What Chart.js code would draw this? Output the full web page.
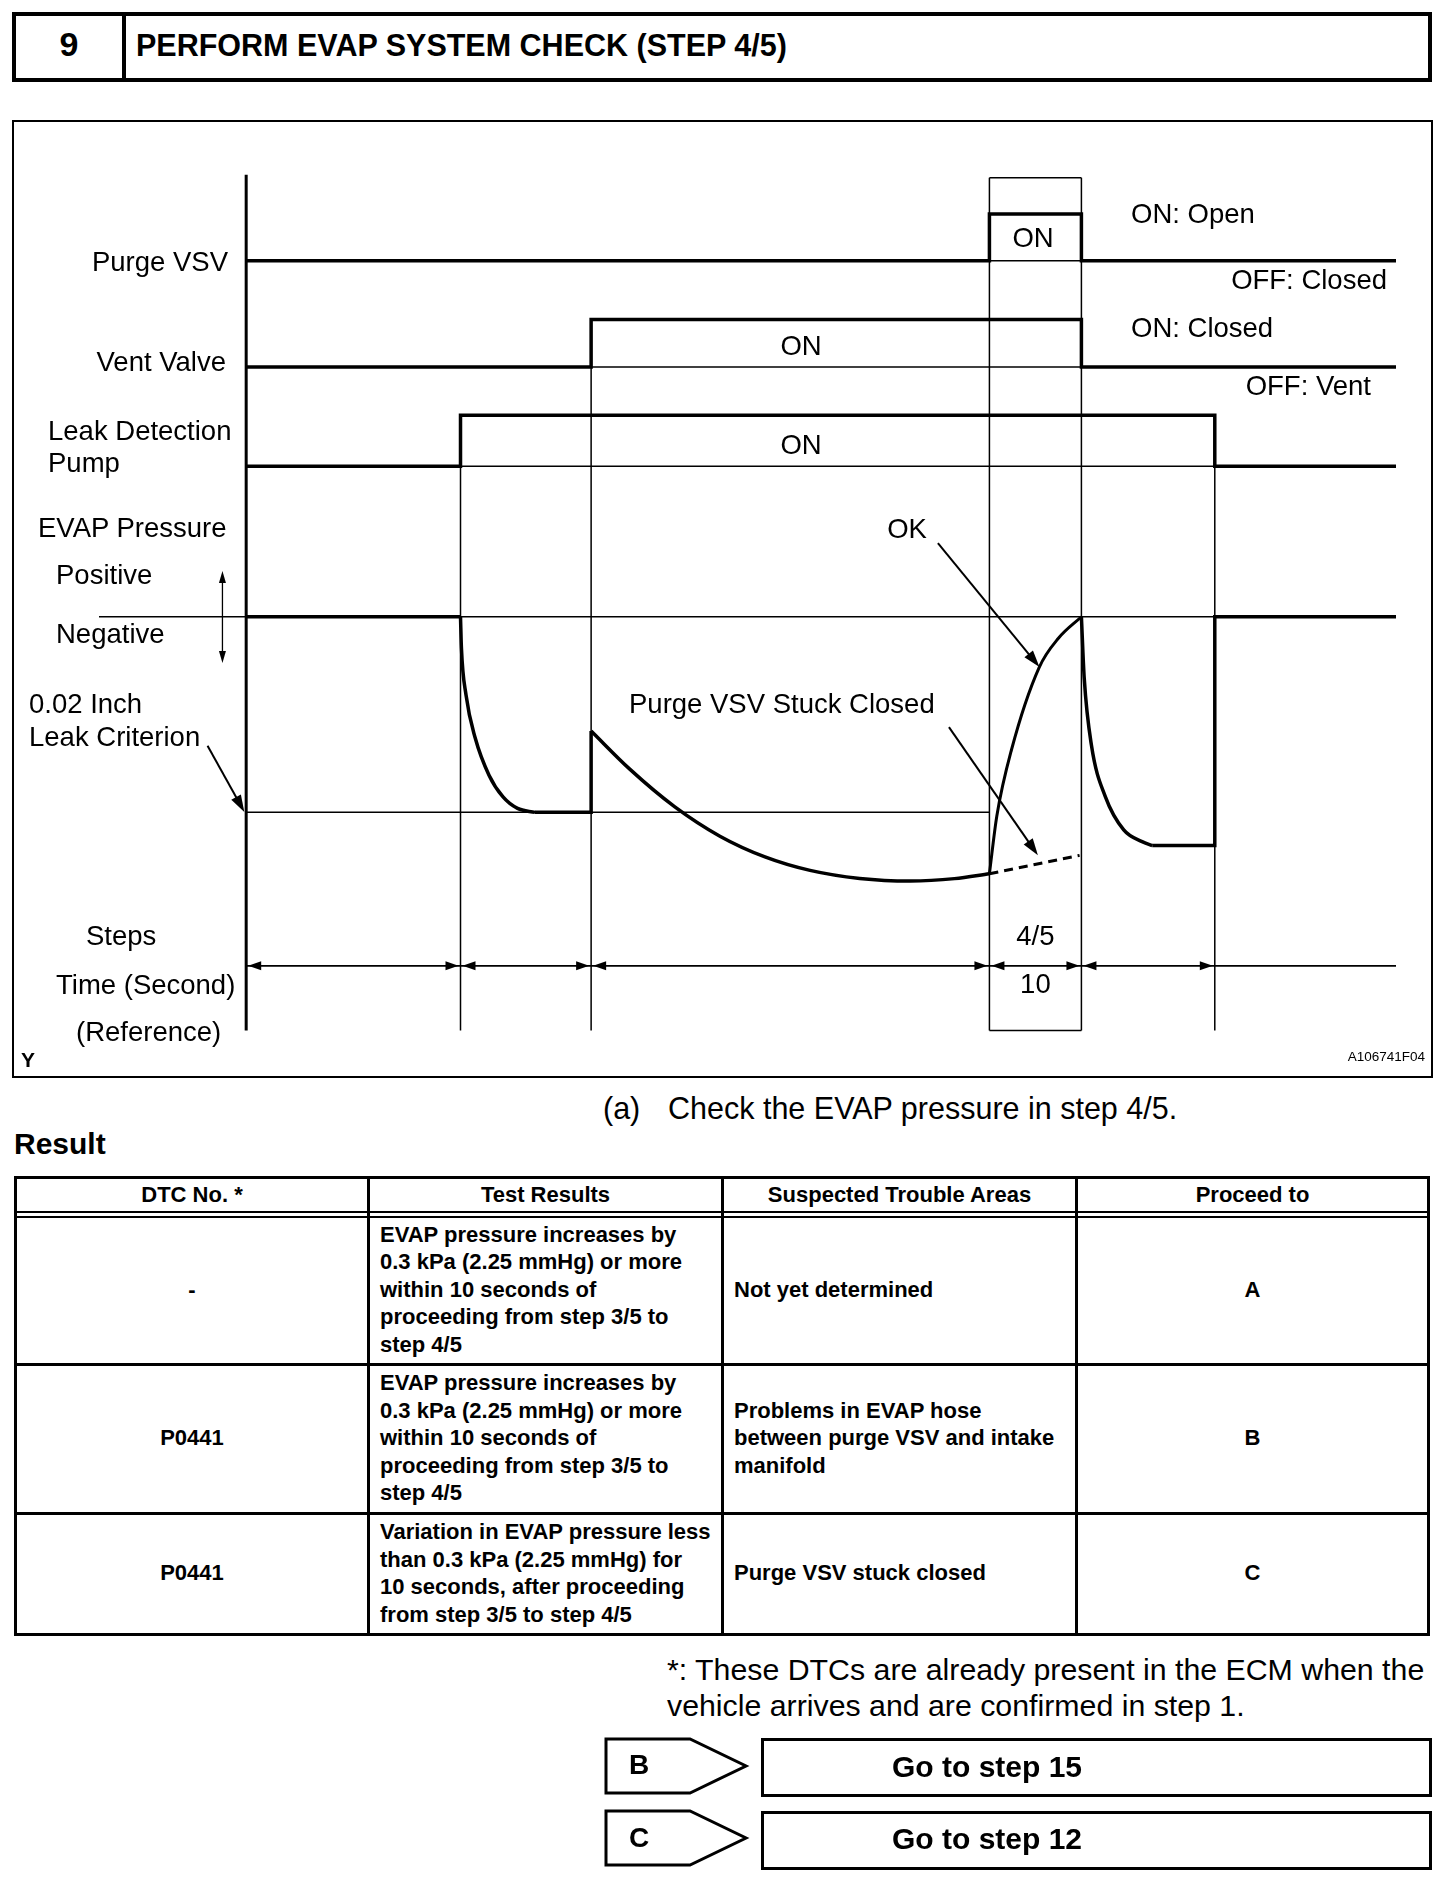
<!DOCTYPE html>
<html>
<head>
<meta charset="utf-8">
<title>Perform EVAP system check (step 4/5)</title>
<script src="https://cdn.jsdelivr.net/npm/chart.js"></script>
<style>
  body { margin: 0; width: 1456px; height: 1884px; position: relative; overflow: hidden; background: #fff; color: #000;
         font-family: "Liberation Sans", Arial, Helvetica, sans-serif; }
  .box { position: absolute; box-sizing: border-box; border: 3px solid #000; }
  .bar { position: absolute; background: #000; }
  .t { position: absolute; white-space: nowrap; line-height: 1; transform: translateY(-50%); }
  .t.r { transform: translate(-100%, -50%); }
  .t.c { transform: translate(-50%, -50%); }
  .lab { font-size: 27.5px; }
  .cell { position: absolute; display: flex; align-items: center; box-sizing: border-box;
          font-weight: bold; font-size: 22px; line-height: 27.5px; }
  .cc { justify-content: center; text-align: center; }
  .cl { padding-left: 10px; }
  #diagram { position: absolute; left: 12px; top: 120px; width: 1421px; height: 958px; box-sizing: border-box; border: 2px solid #000; }
  #diagram canvas { position: absolute; left: 0; top: 0; }
</style>
</head>
<body>

<!-- header -->
<div class="box" style="left:12px;top:12px;width:1420px;height:70px;border-width:4px"></div>
<div class="bar" style="left:122px;top:12px;width:4px;height:70px"></div>
<span class="t c" style="left:69px;top:44px;font-size:34px;font-weight:bold">9</span>
<span class="t" style="left:136px;top:45px;font-size:30.5px;font-weight:bold">PERFORM EVAP SYSTEM CHECK (STEP 4/5)</span>

<!-- timing diagram -->
<div id="diagram"><canvas id="timing" width="1417" height="954"></canvas></div>

<span class="t r lab" style="left:228px;top:262px">Purge VSV</span>
<span class="t r lab" style="left:226px;top:362px">Vent Valve</span>
<span class="t lab" style="left:48px;top:431px">Leak Detection</span>
<span class="t lab" style="left:48px;top:463px">Pump</span>
<span class="t lab" style="left:38px;top:528px">EVAP Pressure</span>
<span class="t lab" style="left:56px;top:575px">Positive</span>
<span class="t lab" style="left:56px;top:634px">Negative</span>
<span class="t lab" style="left:29px;top:704px">0.02 Inch</span>
<span class="t lab" style="left:29px;top:737px">Leak Criterion</span>
<span class="t lab" style="left:86px;top:936px">Steps</span>
<span class="t lab" style="left:56px;top:985px">Time (Second)</span>
<span class="t lab" style="left:76px;top:1032px">(Reference)</span>
<span class="t" style="left:21px;top:1059px;font-size:21px;font-weight:bold">Y</span>
<span class="t r" style="left:1425px;top:1057px;font-size:13.5px">A106741F04</span>

<span class="t c lab" style="left:1033px;top:238px">ON</span>
<span class="t lab" style="left:1131px;top:214px">ON: Open</span>
<span class="t r lab" style="left:1387px;top:280px">OFF: Closed</span>
<span class="t lab" style="left:1131px;top:328px">ON: Closed</span>
<span class="t r lab" style="left:1371px;top:386px">OFF: Vent</span>
<span class="t c lab" style="left:801px;top:346px">ON</span>
<span class="t c lab" style="left:801px;top:445px">ON</span>
<span class="t c lab" style="left:907px;top:529px">OK</span>
<span class="t lab" style="left:629px;top:704px">Purge VSV Stuck Closed</span>

<!-- caption -->
<span class="t" style="left:603px;top:1108px;font-size:30.5px">(a)</span>
<span class="t" style="left:668px;top:1108px;font-size:30.5px">Check the EVAP pressure in step 4/5.</span>
<span class="t" style="left:14px;top:1144px;font-size:30px;font-weight:bold">Result</span>

<!-- result table -->
<div class="box" style="left:14px;top:1176px;width:1416px;height:460px"></div>
<div class="bar" style="left:367px;top:1176px;width:3px;height:460px"></div>
<div class="bar" style="left:721px;top:1176px;width:3px;height:460px"></div>
<div class="bar" style="left:1075px;top:1176px;width:3px;height:460px"></div>
<div class="bar" style="left:14px;top:1211px;width:1416px;height:2px"></div>
<div class="bar" style="left:14px;top:1216px;width:1416px;height:2px"></div>
<div class="bar" style="left:14px;top:1363px;width:1416px;height:3px"></div>
<div class="bar" style="left:14px;top:1512px;width:1416px;height:3px"></div>

<div class="cell cc" style="left:17px;top:1178px;width:350px;height:33px">DTC No. *</div>
<div class="cell cc" style="left:370px;top:1178px;width:351px;height:33px">Test Results</div>
<div class="cell cc" style="left:724px;top:1178px;width:351px;height:33px">Suspected Trouble Areas</div>
<div class="cell cc" style="left:1078px;top:1178px;width:349px;height:33px">Proceed to</div>

<div class="cell cc" style="left:17px;top:1217px;width:350px;height:145px">-</div>
<div class="cell cl" style="left:370px;top:1217px;width:351px;height:145px">EVAP pressure increases by<br>0.3 kPa (2.25 mmHg) or more<br>within 10 seconds of<br>proceeding from step 3/5 to<br>step 4/5</div>
<div class="cell cl" style="left:724px;top:1217px;width:351px;height:145px">Not yet determined</div>
<div class="cell cc" style="left:1078px;top:1217px;width:349px;height:145px">A</div>

<div class="cell cc" style="left:17px;top:1365px;width:350px;height:146px">P0441</div>
<div class="cell cl" style="left:370px;top:1365px;width:351px;height:146px">EVAP pressure increases by<br>0.3 kPa (2.25 mmHg) or more<br>within 10 seconds of<br>proceeding from step 3/5 to<br>step 4/5</div>
<div class="cell cl" style="left:724px;top:1365px;width:351px;height:146px">Problems in EVAP hose<br>between purge VSV and intake<br>manifold</div>
<div class="cell cc" style="left:1078px;top:1365px;width:349px;height:146px">B</div>

<div class="cell cc" style="left:17px;top:1514px;width:350px;height:118px">P0441</div>
<div class="cell cl" style="left:370px;top:1514px;width:351px;height:118px">Variation in EVAP pressure less<br>than 0.3 kPa (2.25 mmHg) for<br>10 seconds, after proceeding<br>from step 3/5 to step 4/5</div>
<div class="cell cl" style="left:724px;top:1514px;width:351px;height:118px">Purge VSV stuck closed</div>
<div class="cell cc" style="left:1078px;top:1514px;width:349px;height:118px">C</div>

<!-- footnote and jumps -->
<span class="t" style="left:667px;top:1670px;font-size:30.3px">*: These DTCs are already present in the ECM when the</span>
<span class="t" style="left:667px;top:1706px;font-size:30.3px">vehicle arrives and are confirmed in step 1.</span>

<svg style="position:absolute;left:0;top:0" width="1456" height="1884">
  <polygon points="606,1739 690,1739 746,1766 690,1793 606,1793" fill="none" stroke="#000" stroke-width="3"/>
  <polygon points="606,1811 690,1811 746,1838 690,1865 606,1865" fill="none" stroke="#000" stroke-width="3"/>
</svg>
<div class="box" style="left:761px;top:1738px;width:671px;height:59px"></div>
<div class="box" style="left:761px;top:1811px;width:671px;height:59px"></div>
<span class="t" style="left:629px;top:1765px;font-size:28px;font-weight:bold">B</span>
<span class="t" style="left:629px;top:1838px;font-size:28px;font-weight:bold">C</span>
<span class="t" style="left:892px;top:1767px;font-size:30px;font-weight:bold">Go to step 15</span>
<span class="t" style="left:892px;top:1839px;font-size:30px;font-weight:bold">Go to step 12</span>

<script>
// phase boundaries on the time axis (seconds, reference only)
const phaseTimes = [0, 23.3, 37.5, 80.8, 90.8, 105.3, 125];
// state of each output in each phase (1 = ON)
const purgeVsvOn  = [0, 0, 0, 1, 0, 0];
const ventValveOn = [0, 0, 1, 1, 0, 0];
const leakPumpOn  = [0, 1, 1, 1, 1, 0];
const stepLabels = ['', '', '', '4/5', '', ''];
const timeLabels = ['', '', '', '10', '', ''];

// EVAP pressure, relative units: 0 = atmosphere, -1 = 0.02 inch leak criterion
const evapStart       = [[0, 0], [23.3, 0]];
const evapPumpDown    = [[23.3, 0], [23.4, -0.16], [23.9, -0.40], [24.9, -0.62], [26.4, -0.81], [27.9, -0.92], [29.5, -0.98], [31.4, -1.0]];
const evapCriterion   = [[31.4, -1.0], [37.5, -1.0], [37.5, -0.584]];
const evapVentClosed  = [[37.5, -0.584], [41.7, -0.779], [46.6, -0.972], [51.5, -1.122], [56.4, -1.228], [61.3, -1.297], [66.7, -1.338], [72.2, -1.351], [77.0, -1.339], [80.8, -1.314]];
const evapOk          = [[80.8, -1.314], [81.6, -1.02], [83.2, -0.68], [86.2, -0.26], [88.3, -0.11], [90.8, 0]];
const evapStuckClosed = [[80.8, -1.314], [90.6, -1.22]];
const evapRecheck     = [[90.8, 0], [91.1, -0.31], [91.9, -0.66], [93.4, -0.92], [95.4, -1.09], [97.4, -1.15], [98.5, -1.17]];
const evapEnd         = [[98.5, -1.17], [105.3, -1.17], [105.3, 0], [125, 0]];

// where each signal sits on the shared y scale
const lanes = [
  { on: purgeVsvOn,  low: 1.82, high: 2.06 },
  { on: ventValveOn, low: 1.277, high: 1.52 },
  { on: leakPumpOn,  low: 0.77, high: 1.03 }
];
const axisTop = 2.26, boxTop = 2.245, guideBottom = -2.115;
const arrowRowY = -1.785, stepRowY = -1.63, timeRowY = -1.88;

// label pointers [from, to] in data units
const pointers = [
  { from: [-4.2, -0.66], to: [-0.2, -0.998], w: 2, len: 17, half: 5.5 },
  { from: [75.2, 0.377], to: [86.24, -0.257], w: 2, len: 17, half: 5.5 },
  { from: [76.4, -0.564], to: [86.07, -1.22], w: 2, len: 17, half: 5.5 },
  { from: [-2.58, 0], to: [-2.58, 0.234], w: 1.3, len: 12, half: 3.5 },
  { from: [-2.58, 0], to: [-2.58, -0.236], w: 1.3, len: 12, half: 3.5 }
];

const THICK = 3.5, THIN = 1.5;

function line(pts, w, extra) {
  return Object.assign({
    data: pts.map(p => ({ x: p[0], y: p[1] })),
    borderColor: '#000', borderWidth: w, pointRadius: 0, tension: 0, fill: false
  }, extra || {});
}
const curve = { cubicInterpolationMode: 'monotone' };

function trace(lane) {
  const pts = [];
  lane.on.forEach((v, i) => {
    const y = v ? lane.high : lane.low;
    pts.push([phaseTimes[i], y], [phaseTimes[i + 1], y]);
  });
  return pts;
}

function onRuns(states) {
  const runs = [];
  let s = null;
  states.forEach((v, i) => {
    if (v && s === null) s = i;
    if (!v && s !== null) { runs.push([phaseTimes[s], phaseTimes[i]]); s = null; }
  });
  if (s !== null) runs.push([phaseTimes[s], phaseTimes[states.length]]);
  return runs;
}

const datasets = [];
const tEnd = phaseTimes[phaseTimes.length - 1];

// thin reference lines
datasets.push(line([[-16, 0], [tEnd, 0]], THIN));
datasets.push(line([[0, -1], [80.8, -1]], THIN));
datasets.push(line([[0, arrowRowY], [tEnd, arrowRowY]], 1.8));
lanes.forEach(ln => onRuns(ln.on).forEach(r => datasets.push(line([[r[0], ln.low], [r[1], ln.low]], THIN))));
onRuns(purgeVsvOn).forEach(r => {
  datasets.push(line([[r[0], boxTop], [r[1], boxTop]], THIN));
  datasets.push(line([[r[0], guideBottom], [r[1], guideBottom]], THIN));
});
for (let i = 1; i < phaseTimes.length - 1; i++) {
  let top = null;
  lanes.forEach((ln, k) => {
    if (ln.on[i] !== ln.on[i - 1]) {
      const h = k === 0 ? boxTop : ln.high;
      top = top === null ? h : Math.max(top, h);
    }
  });
  if (top !== null) datasets.push(line([[phaseTimes[i], top], [phaseTimes[i], guideBottom]], THIN));
}

// axis and signal traces
datasets.push(line([[0, axisTop], [0, guideBottom]], 3));
lanes.forEach(ln => datasets.push(line(trace(ln), THICK)));

// EVAP pressure
datasets.push(line(evapStart, THICK));
datasets.push(line(evapPumpDown, THICK, curve));
datasets.push(line(evapCriterion, THICK));
datasets.push(line(evapVentClosed, THICK, curve));
datasets.push(line(evapOk, 3, curve));
datasets.push(line(evapStuckClosed, 3, { borderDash: [9, 6] }));
datasets.push(line(evapRecheck, THICK, curve));
datasets.push(line(evapEnd, THICK));

function head(ctx, tx, ty, dx, dy, len, half) {
  ctx.beginPath();
  ctx.moveTo(tx, ty);
  ctx.lineTo(tx - dx * len - dy * half, ty - dy * len + dx * half);
  ctx.lineTo(tx - dx * len + dy * half, ty - dy * len - dx * half);
  ctx.closePath();
  ctx.fill();
}

const arrows = {
  id: 'arrows',
  afterDatasetsDraw(chart) {
    const { ctx, scales: { x, y } } = chart;
    ctx.save();
    ctx.fillStyle = '#000';
    ctx.strokeStyle = '#000';
    // dimension arrows on the time row
    const ay = y.getPixelForValue(arrowRowY);
    for (let i = 0; i < phaseTimes.length - 2; i++) {
      const a = x.getPixelForValue(phaseTimes[i]), b = x.getPixelForValue(phaseTimes[i + 1]);
      head(ctx, a + 2, ay, -1, 0, 13, 4.5);
      head(ctx, b - 2, ay, 1, 0, 13, 4.5);
    }
    // label pointers
    pointers.forEach(p => {
      const x0 = x.getPixelForValue(p.from[0]), y0 = y.getPixelForValue(p.from[1]);
      const x1 = x.getPixelForValue(p.to[0]), y1 = y.getPixelForValue(p.to[1]);
      const d = Math.hypot(x1 - x0, y1 - y0), ux = (x1 - x0) / d, uy = (y1 - y0) / d;
      ctx.lineWidth = p.w;
      ctx.beginPath();
      ctx.moveTo(x0, y0);
      ctx.lineTo(x1 - ux * p.len * 0.8, y1 - uy * p.len * 0.8);
      ctx.stroke();
      head(ctx, x1, y1, ux, uy, p.len, p.half);
    });
    ctx.restore();
  }
};

const canvas = document.getElementById('timing');
const chart = new Chart(canvas, {
  type: 'line',
  data: { datasets },
  options: {
    responsive: false,
    animation: false,
    events: [],
    layout: { padding: { left: 85, right: 35, top: 45, bottom: 29 } },
    plugins: { legend: { display: false }, tooltip: { enabled: false } },
    scales: {
      x: { type: 'linear', min: -16, max: 125, display: false },
      y: { type: 'linear', min: -2.2, max: 2.3, display: false }
    }
  },
  plugins: [arrows]
});

// step / time row labels placed through the chart's scales
const box = canvas.getBoundingClientRect();
function rowLabels(labels, level) {
  labels.forEach((s, i) => {
    if (!s) return;
    const cx = (chart.scales.x.getPixelForValue(phaseTimes[i]) + chart.scales.x.getPixelForValue(phaseTimes[i + 1])) / 2;
    const el = document.createElement('span');
    el.className = 't c lab';
    el.textContent = s;
    el.style.left = (box.left + cx) + 'px';
    el.style.top = (box.top + chart.scales.y.getPixelForValue(level)) + 'px';
    document.body.appendChild(el);
  });
}
rowLabels(stepLabels, stepRowY);
rowLabels(timeLabels, timeRowY);
</script>
</body>
</html>
